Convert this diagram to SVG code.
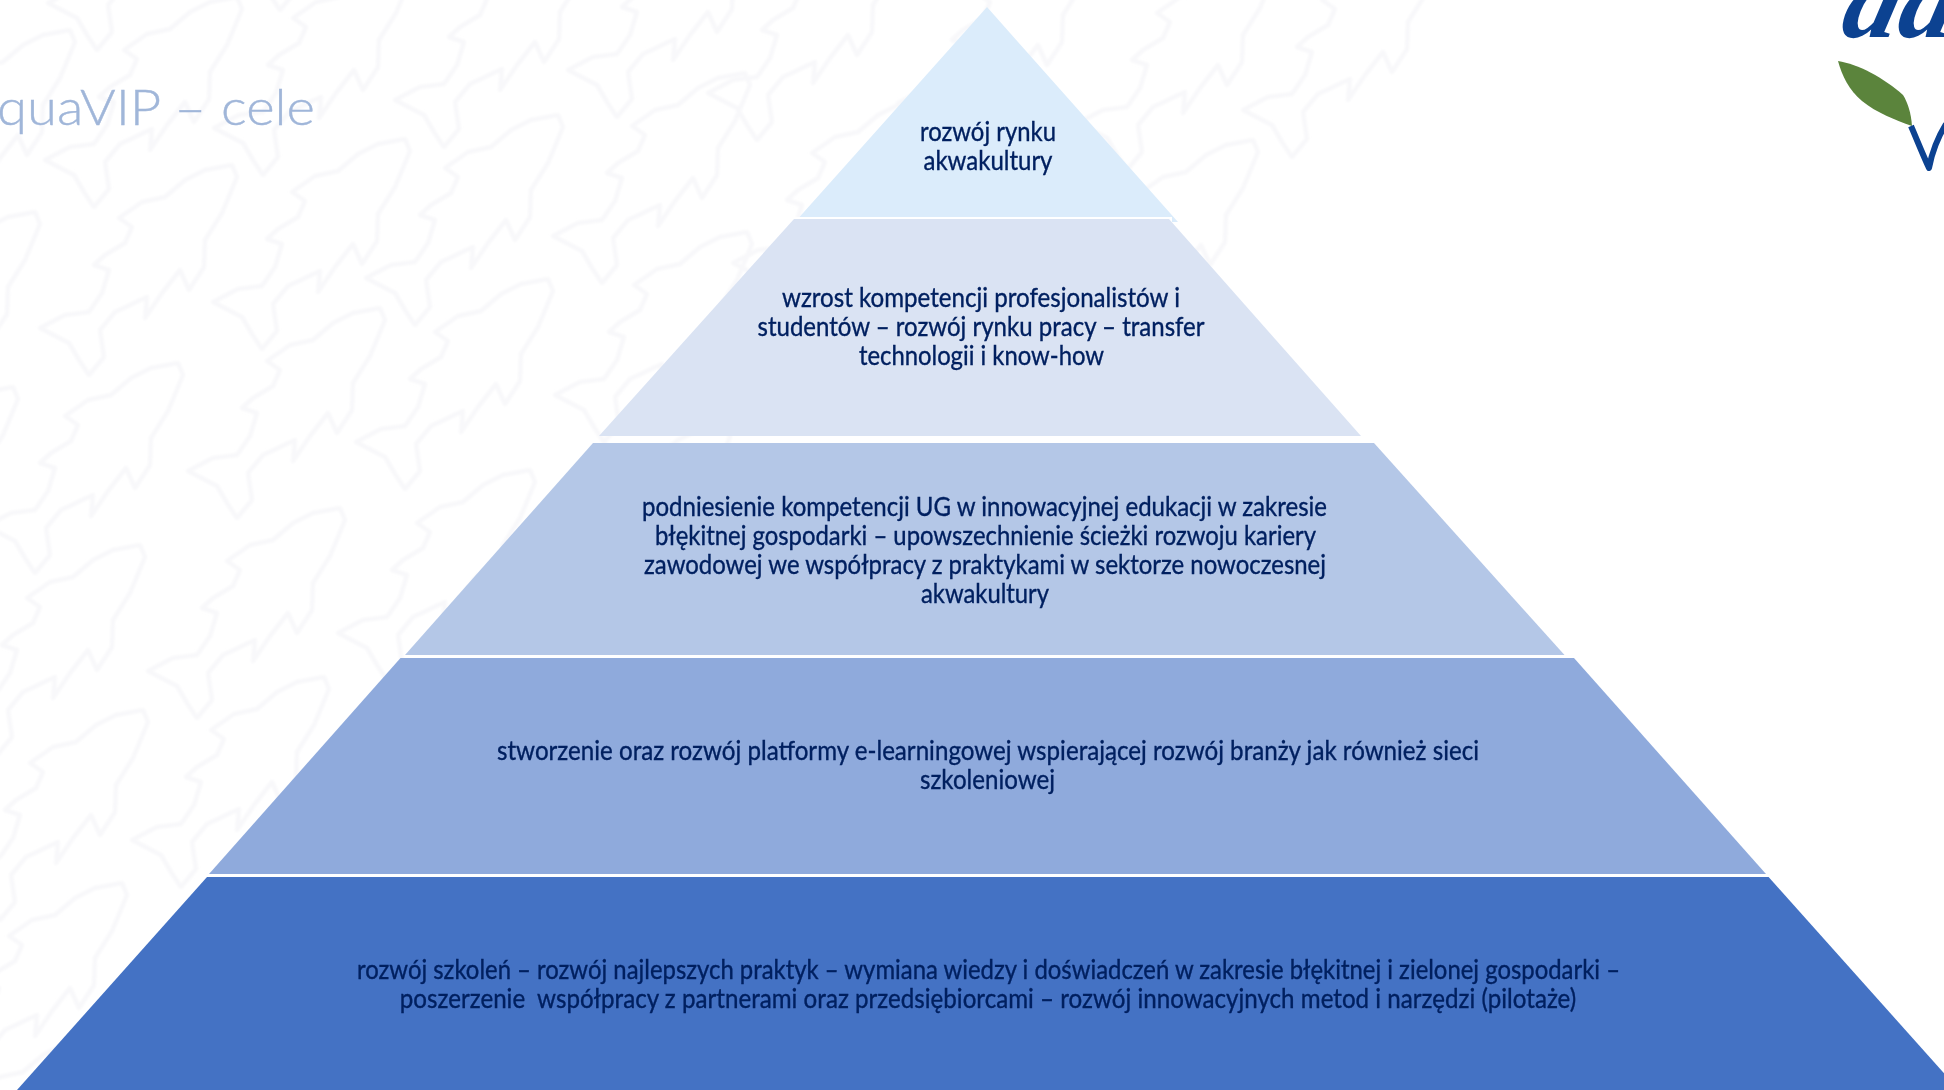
<svg xmlns="http://www.w3.org/2000/svg" width="1944" height="1090" viewBox="0 0 1944 1090">
<style>
.t{font-family:"Lato","Carlito","Liberation Sans",sans-serif;font-size:26.5px;fill:#002060;stroke:#002060;stroke-width:.35px}
.f{fill:none;stroke:#f8f8fa;stroke-width:4.5;stroke-linejoin:round}
</style>
<defs>
<filter id="soft" x="-5%" y="-5%" width="110%" height="110%"><feGaussianBlur stdDeviation="1"/></filter>
<path id="fish" d="M0 0L-27 5L-47 15L-67 32L-90 37L-113 53L-100 62L-107 78L-127 90L-138 100L-123 105L-130 128L-143 147L-167 150L-192 163L-163 178L-153 195L-143 210L-128 192L-132 165L-117 147L-85 132L-87 153L-70 128L-52 105L-43 125L-28 102L-27 75L-10 48L5 12Z"/>
</defs>
<rect width="1944" height="1090" fill="#fff"/>
<g id="background-fish" class="f" filter="url(#soft)">
<use href="#fish" x="237" y="-3"/><use href="#fish" x="232" y="165"/><use href="#fish" x="178" y="363"/>
<use href="#fish" x="406" y="-35"/><use href="#fish" x="405" y="139"/><use href="#fish" x="380" y="308"/>
<use href="#fish" x="340" y="508"/><use href="#fish" x="587" y="-63"/><use href="#fish" x="558" y="115"/>
<use href="#fish" x="548" y="279"/><use href="#fish" x="530" y="470"/><use href="#fish" x="760" y="-93"/>
<use href="#fish" x="745" y="73"/><use href="#fish" x="747" y="232"/><use href="#fish" x="725" y="425"/>
<use href="#fish" x="35" y="212"/><use href="#fish" x="13" y="387"/><use href="#fish" x="140" y="545"/>
<use href="#fish" x="324" y="677"/><use href="#fish" x="143" y="710"/><use href="#fish" x="122" y="883"/>
<use href="#fish" x="-20" y="590"/><use href="#fish" x="-30" y="770"/><use href="#fish" x="90" y="1040"/>
<use href="#fish" x="240" y="-160"/><use href="#fish" x="423" y="-200"/><use href="#fish" x="70" y="30"/>
<use href="#fish" x="900" y="-70"/><use href="#fish" x="925" y="100"/><use href="#fish" x="1090" y="-60"/>
<use href="#fish" x="1253" y="140"/><use href="#fish" x="1435" y="-53"/><use href="#fish" x="1270" y="-40"/>
</g>
<g id="title"><text x="-3" y="125" font-family="Lato,'Liberation Sans',sans-serif" font-weight="300" font-size="50" fill="#a0b6d9" stroke="#a0b6d9" stroke-width=".4" textLength="318" lengthAdjust="spacingAndGlyphs">quaVIP – cele</text></g>
<g id="logo">
<text transform="translate(1838 37) skewX(-14)" font-family="'Liberation Serif',serif" font-style="italic" font-weight="700" font-size="112" fill="#0c4291">aa</text>
<path d="M1838 61C1858 64 1884 78 1903 95C1908 103 1911 113 1912 126C1895 120 1877 113 1862 101C1849 90 1842 76 1838 61Z" fill="#5b843c"/>
<path d="M1911 126C1917 140 1923 155 1929 168C1932 152 1938 137 1946 124" fill="none" stroke="#0c4291" stroke-width="6" stroke-linejoin="round"/>
</g>
<g id="tier-1">
<polygon points="987,7 1178,222 795,222" fill="#dbecfb"/>
<text class="t" x="988" y="141" text-anchor="middle" textLength="136" lengthAdjust="spacingAndGlyphs">rozwój rynku</text>
<text class="t" x="988" y="170" text-anchor="middle" textLength="129" lengthAdjust="spacingAndGlyphs">akwakultury</text>
</g>
<g id="tier-2">
<polygon points="787,217 1172,217 1172,224 787,224" fill="#fff"/>
<polygon points="794,219 1169,219 1361,436 599,436" fill="#dae3f3"/>
<text class="t" x="981" y="307" text-anchor="middle" textLength="398" lengthAdjust="spacingAndGlyphs">wzrost kompetencji profesjonalistów i</text>
<text class="t" x="981" y="336" text-anchor="middle" textLength="447" lengthAdjust="spacingAndGlyphs">studentów – rozwój rynku pracy – transfer</text>
<text class="t" x="981.5" y="365" text-anchor="middle" textLength="245" lengthAdjust="spacingAndGlyphs">technologii i know-how</text>
</g>
<g id="tier-3">
<polygon points="593,443 1374,443 1564.5,655 405,655" fill="#b4c7e7"/>
<text class="t" x="984.5" y="515.5" text-anchor="middle" textLength="685" lengthAdjust="spacingAndGlyphs">podniesienie kompetencji UG w innowacyjnej edukacji w zakresie</text>
<text class="t" x="985.5" y="544.5" text-anchor="middle" textLength="661" lengthAdjust="spacingAndGlyphs">błękitnej gospodarki – upowszechnienie ścieżki rozwoju kariery</text>
<text class="t" x="985" y="573.5" text-anchor="middle" textLength="682" lengthAdjust="spacingAndGlyphs">zawodowej we współpracy z praktykami w sektorze nowoczesnej</text>
<text class="t" x="985" y="603" text-anchor="middle" textLength="128" lengthAdjust="spacingAndGlyphs">akwakultury</text>
</g>
<g id="tier-4">
<polygon points="400.5,658 1574,658 1766,874 209,874" fill="#8faadc"/>
<text class="t" x="988" y="760" text-anchor="middle" textLength="982" lengthAdjust="spacingAndGlyphs">stworzenie oraz rozwój platformy e-learningowej wspierającej rozwój branży jak również sieci</text>
<text class="t" x="987.5" y="789" text-anchor="middle" textLength="135" lengthAdjust="spacingAndGlyphs">szkoleniowej</text>
</g>
<g id="tier-5">
<polygon points="207,877 1768.6,877 1959,1090 17,1090" fill="#4472c4"/>
<text class="t" x="988.5" y="979" text-anchor="middle" textLength="1263" lengthAdjust="spacingAndGlyphs">rozwój szkoleń – rozwój najlepszych praktyk – wymiana wiedzy i doświadczeń w zakresie błękitnej i zielonej gospodarki –</text>
<text class="t" x="988" y="1008" text-anchor="middle" textLength="1176.5" lengthAdjust="spacingAndGlyphs" xml:space="preserve">poszerzenie  współpracy z partnerami oraz przedsiębiorcami – rozwój innowacyjnych metod i narzędzi (pilotaże)</text>
</g>
</svg>
